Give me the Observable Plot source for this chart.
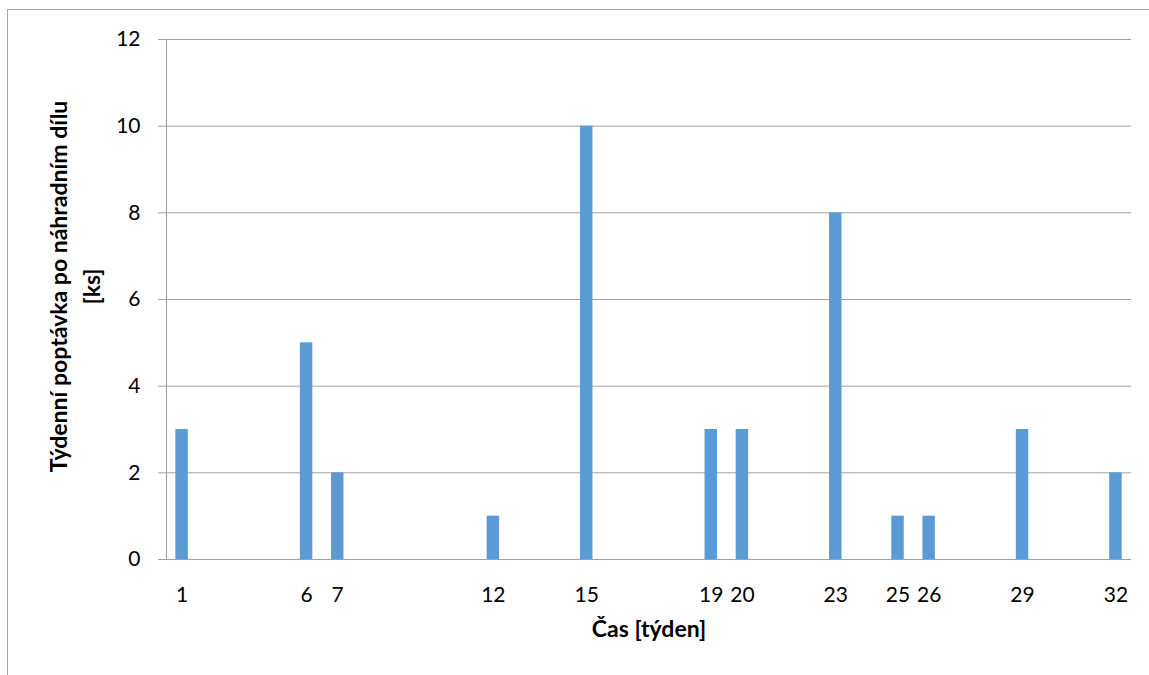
<!DOCTYPE html>
<html>
<head>
<meta charset="utf-8">
<script src="https://cdn.jsdelivr.net/npm/d3@7"></script>
<script src="https://cdn.jsdelivr.net/npm/@observablehq/plot@0.6"></script>
<style>
  html, body { margin: 0; padding: 0; background: #fff; }
  #wrap { position: relative; width: 1149px; height: 675px; overflow: hidden; }
  #border { position: absolute; left: 7px; top: 9px; width: 1200px; height: 720px; border: 1px solid #a6a6a6; }
  #chart { position: absolute; left: 0; top: 0; }
</style>
</head>
<body>
<div id="wrap"><div id="border"></div><div id="chart"></div></div>
<script>
// Weeks on the category axis (31 categories as spaced in the source chart)
const weekDomain = [1,2,3,5,6,7,8,9,10,11,12,13,14,15,16,17,18,19,20,21,22,23,24,25,26,27,28,29,30,31,32];
// Weeks with demand and the demand in those weeks
const demandWeeks = [1, 6, 7, 12, 15, 19, 20, 23, 25, 26, 29, 32];
const demandValues = [3, 5, 2, 1, 10, 3, 3, 8, 1, 1, 3, 2];
const yTicks = [0, 2, 4, 6, 8, 10, 12];
const xTitle = "Čas [týden]";
const yTitleLines = ["Týdenní poptávka po náhradním dílu", "[ks]"];

const data = demandWeeks.map((w, i) => ({week: w, demand: demandValues[i]}));

const gridColor = "#a0a0a0";
const titleSize = 23;
const chart = Plot.plot({
  width: 1149,
  height: 675,
  marginLeft: 166,
  marginRight: 18,
  marginTop: 39,
  marginBottom: 116,
  style: {fontFamily: "Lato, 'Open Sans', sans-serif", fontSize: "21px", color: "#000", background: "transparent"},
  x: {type: "band", domain: weekDomain, paddingInner: 0.6, paddingOuter: 0.3, round: false},
  y: {domain: [0, 12]},
  marks: [
    Plot.gridY(yTicks, {stroke: gridColor, strokeOpacity: 1}),
    Plot.frame({anchor: "left", stroke: gridColor, strokeOpacity: 1}),
    Plot.barY(data, {x: "week", y: "demand", fill: "#5B9BD5"}),
    Plot.axisY(yTicks, {tickSize: 8, tickPadding: 18, stroke: gridColor, strokeOpacity: 1, fill: "#000", label: null, fontSize: 21}),
    Plot.axisX(demandWeeks, {tickSize: 0, tickPadding: 28, fill: "#000", label: null, fontSize: 21}),
    Plot.text([xTitle], {frameAnchor: "bottom", dy: 77, fontWeight: "bold", fontSize: titleSize, fill: "#000"}),
    Plot.text([yTitleLines[0]], {frameAnchor: "left", textAnchor: "middle", dx: -107, dy: -13, rotate: -90, fontWeight: "bold", fontSize: titleSize, fill: "#000"}),
    Plot.text([yTitleLines[1]], {frameAnchor: "left", textAnchor: "middle", dx: -74, dy: -13, rotate: -90, fontWeight: "bold", fontSize: titleSize, fill: "#000"})
  ]
});
document.getElementById("chart").appendChild(chart);
</script>
</body>
</html>
